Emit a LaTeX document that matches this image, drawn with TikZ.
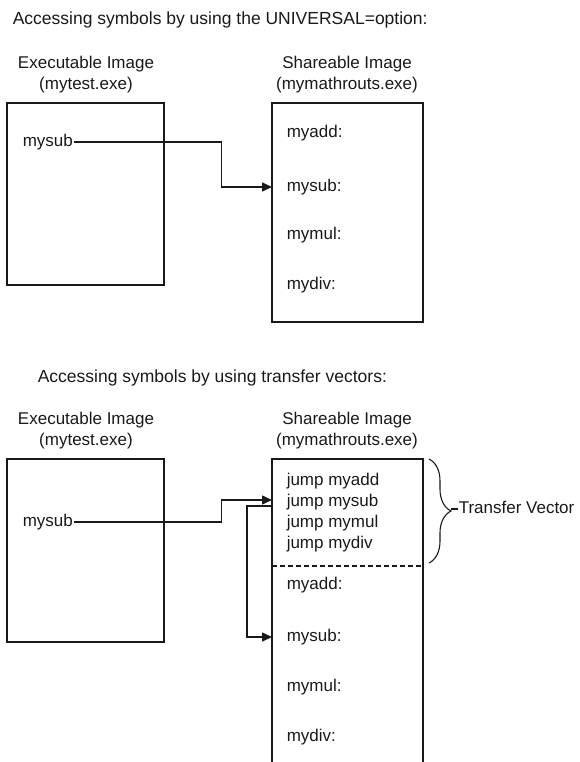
\documentclass[tikz,border=0pt]{standalone}
\usepackage{fontspec}
\setmainfont{Liberation Sans}
\usetikzlibrary{arrows.meta,decorations.pathreplacing}
\tikzset{every path/.style={line width=1.5pt, black!90},
  box/.style={draw, line width=1.6pt, inner sep=0pt, outer sep=0pt},
  lbl/.style={inner sep=0pt, anchor=west, text height=12pt, text depth=3.5pt},
  head/.style={align=center, inner sep=0pt},
  conn/.style={-{Triangle[length=10pt,width=9pt]}}}

\begin{document}
\begin{tikzpicture}[x=1pt,y=-1pt,font=\fontsize{17}{21}\selectfont]
   \useasboundingbox (0,0) rectangle (579,762);
   % UNIVERSAL= option
   \begin{scope}
    \node[lbl, font=\fontsize{17.5}{21}\selectfont] (title1) at (12,20) {Accessing symbols by using the UNIVERSAL=option:};
    \node[head] (exelbl1) at (86,75) {Executable Image\\(mytest.exe)};
    \node[head] (shrlbl1) at (347,75) {Shareable Image\\(mymathrouts.exe)};
    \node[box, minimum width=157pt, minimum height=182pt] (exec1) at (85.5,194) {};
    \node[box, minimum width=151pt, minimum height=219pt] (share1) at (347.5,212.5) {};
    \node[lbl] (src1) at (22,142) {mysub};
    \node[lbl] (add1) at (286,133) {myadd:};
    \node[lbl] (sub1) at (286,187) {mysub:};
    \node[lbl] (mul1) at (286,235) {mymul:};
    \node[lbl] (div1) at (286,285) {mydiv:};
    \draw[conn] (src1.east) -- ++(148,0) |- (sub1.west -| share1.west);
   \end{scope}
   % transfer vectors
   \begin{scope}
    \node[lbl, font=\fontsize{17.5}{21}\selectfont] (title2) at (37,378) {Accessing symbols by using transfer vectors:};
    \node[head] (exelbl2) at (86,431) {Executable Image\\(mytest.exe)};
    \node[head] (shrlbl2) at (347,431) {Shareable Image\\(mymathrouts.exe)};
    \node[box, minimum width=157pt, minimum height=183pt] (exec2) at (85.5,550.5) {};
    \node[box, minimum width=151pt, minimum height=321pt] (share2) at (347.5,619.5) {};
    \node[lbl] (src2) at (22,522) {mysub};
    \node[lbl] (jadd) at (286,481) {jump myadd};
    \node[lbl] (jsub) at (286,502) {jump mysub};
    \node[lbl] (jmul) at (286,523) {jump mymul};
    \node[lbl] (jdiv) at (286,544) {jump mydiv};
    \node[lbl] (add2) at (286,585) {myadd:};
    \node[lbl] (sub2) at (286,637) {mysub:};
    \node[lbl] (mul2) at (286,687) {mymul:};
    \node[lbl] (div2) at (286,737) {mydiv:};
    \coordinate (cut) at (0,566);
    \draw[line width=1.3pt, dash pattern=on 5pt off 3pt] (share2.west |- cut) -- (share2.east |- cut);
    \draw[conn] (src2.east) -- ++(148,0) |- ([yshift=2pt]jsub.west -| share2.west);
    \draw[conn] ([yshift=-4pt]jsub.west -| share2.west) -- ++(-25,0) |- (sub2.west -| share2.west);
    \coordinate (brtop) at ([xshift=6pt]share2.north east);
    \coordinate (brbot) at ([yshift=3pt]brtop |- cut);
    \draw[line width=1.1pt, decorate, decoration={brace, amplitude=22pt}] (brtop) -- (brbot);
    \node[lbl] (tvlbl) at (458,509) {Transfer Vector};
    \draw[line width=1.1pt] ([xshift=-7pt]tvlbl.west) -- (tvlbl.west);
   \end{scope}
  \end{tikzpicture}
\end{document}
